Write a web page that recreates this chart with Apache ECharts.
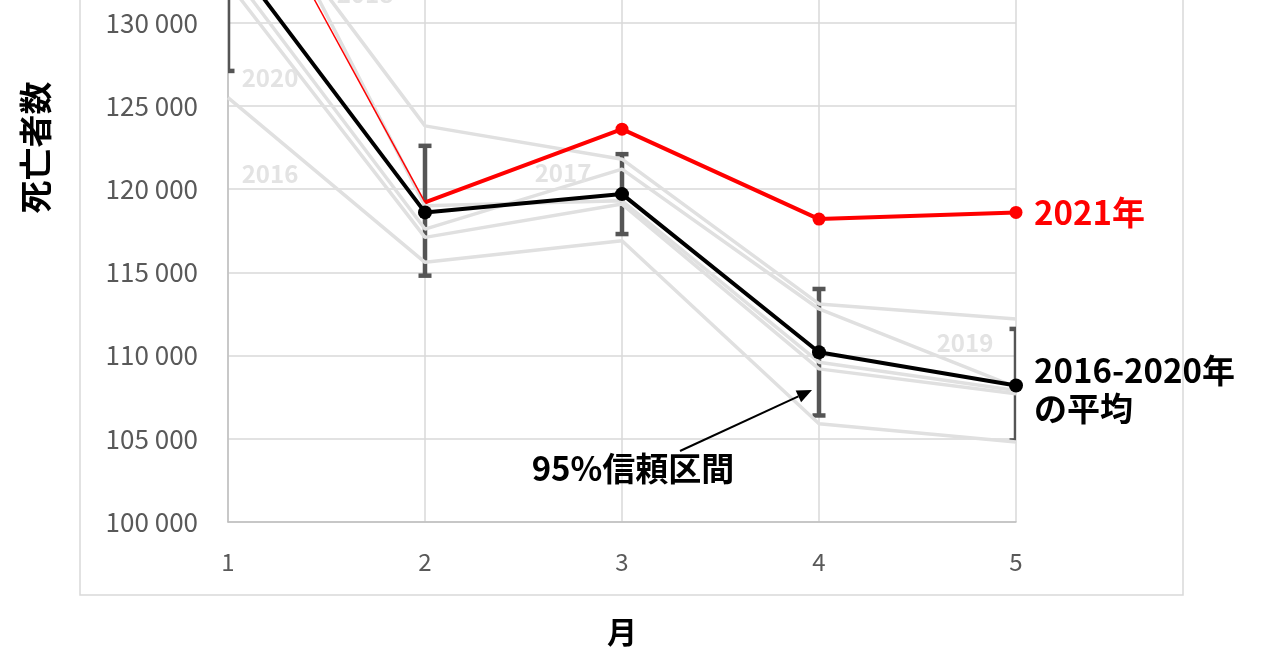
<!DOCTYPE html>
<html>
<head>
<meta charset="utf-8">
<script src="https://cdn.jsdelivr.net/npm/echarts@6/dist/echarts.min.js"></script>
<style>
html,body{margin:0;padding:0;background:#fff;overflow:hidden;width:1280px;height:670px;position:relative;}
#c{position:absolute;left:0;top:-240px;width:1280px;height:910px;}
</style>
</head>
<body>
<div id="c"></div>
<script>
// ---- data ----
const months = [1, 2, 3, 4, 5];
const deaths2016 = [125500, 115600, 116900, 105900, 104800];
const deaths2017 = [133300, 117600, 121200, 112800, 108100];
const deaths2018 = [139600, 123800, 121800, 113100, 112200];
const deaths2019 = [142000, 119000, 119300, 109600, 107900];
const deaths2020 = [132400, 117100, 119100, 109200, 107700];
const mean1620 = [134300, 118600, 119700, 110200, 108200];
const deaths2021 = [140900, 119200, 123600, 118200, 118600];
const ciLow = [127100, 114800, 117300, 106400, 104900];
const ciHigh = [141500, 122600, 122100, 114000, 111600];
const yTicks = { min: 100000, max: 145000, step: 5000 };

const FONT = "'Noto Sans CJK JP', 'Noto Sans', sans-serif";
const GRAY = '#e0e0e0';
const OFF = 240; // the chart canvas starts OFF px above the visible page

function pairs(arr) { return months.map((m, i) => [m, arr[i]]); }

function grayLine(name, arr) {
  return {
    name: name, type: 'line', data: pairs(arr), symbol: 'none', z: 3,
    lineStyle: { color: GRAY, width: 3.5 }, silent: true
  };
}

function errRender(params, api) {
  const x = api.value(0);
  const pLo = api.coord([x, api.value(1)]);
  const pHi = api.coord([x, api.value(2)]);
  const cs = params.coordSys;
  const hw = 6.5;
  const l = Math.max(pLo[0] - hw, cs.x), r = Math.min(pLo[0] + hw, cs.x + cs.width);
  const style = { stroke: '#555555', lineWidth: 4.5, fill: null };
  return {
    type: 'group', children: [
      { type: 'line', shape: { x1: pLo[0], y1: pLo[1], x2: pHi[0], y2: pHi[1] }, style: style },
      { type: 'line', shape: { x1: l, y1: pLo[1], x2: r, y2: pLo[1] }, style: style },
      { type: 'line', shape: { x1: l, y1: pHi[1], x2: r, y2: pHi[1] }, style: style }
    ]
  };
}

const chart = echarts.init(document.getElementById('c'));

const redMain = months.slice(1).map((m, i) => {
  const v = [m, deaths2021[i + 1]];
  return m === 2 ? { value: v, symbol: 'none' } : { value: v };
});

const option = {
  animation: false,
  backgroundColor: '#fff',
  textStyle: { fontFamily: FONT },
  grid: { left: 228, right: 264, top: 12, bottom: 148, containLabel: false },
  xAxis: {
    type: 'value', min: 1, max: 5, interval: 1,
    name: '月', nameLocation: 'middle', nameGap: 95,
    nameTextStyle: { fontSize: 30, fontWeight: 'bold', color: '#000', fontFamily: FONT },
    axisLine: { show: true, lineStyle: { color: '#bfbfbf', width: 1.5 } },
    axisTick: { show: false },
    axisLabel: { color: '#595959', fontSize: 24, margin: 28, fontFamily: FONT },
    splitLine: { show: true, lineStyle: { color: '#d9d9d9', width: 1.5 } }
  },
  yAxis: {
    type: 'value', min: yTicks.min, max: yTicks.max, interval: yTicks.step,
    name: '死亡者数', nameLocation: 'middle', nameRotate: 90, nameGap: 176,
    nameTextStyle: { fontSize: 33, fontWeight: 'bold', color: '#000', fontFamily: FONT },
    axisLine: { show: true, lineStyle: { color: '#bfbfbf', width: 1.5 } },
    axisTick: { show: false },
    axisLabel: {
      color: '#595959', fontSize: 26, margin: 30, fontFamily: FONT,
      formatter: v => String(v).replace(/\B(?=(\d{3})+(?!\d))/g, ' ')
    },
    splitLine: { show: true, lineStyle: { color: '#d9d9d9', width: 1.5 } }
  },
  series: [
    {
      name: '95%信頼区間', type: 'custom', renderItem: errRender, clip: true, z: 2,
      data: months.map((m, i) => [m, ciLow[i], ciHigh[i]]),
      encode: { x: 0, y: [1, 2] }
    },
    grayLine('2016', deaths2016),
    grayLine('2017', deaths2017),
    grayLine('2018', deaths2018),
    grayLine('2019', deaths2019),
    grayLine('2020', deaths2020),
    {
      name: '2016-2020年の平均', type: 'line', data: pairs(mean1620), z: 5,
      symbol: 'circle', symbolSize: 14, showAllSymbol: true,
      itemStyle: { color: '#000' }, lineStyle: { color: '#000', width: 4 }
    },
    {
      name: '2021年 (1-2)', type: 'line', data: pairs(deaths2021).slice(0, 2), z: 6,
      symbol: 'none', lineStyle: { color: '#ff0000', width: 1.5 }
    },
    {
      name: '2021年', type: 'line', data: redMain, z: 6,
      symbol: 'circle', symbolSize: 13, showAllSymbol: true,
      itemStyle: { color: '#ff0000' }, lineStyle: { color: '#ff0000', width: 4 }
    }
  ]
};
chart.setOption(option);

// ---- annotations (page coordinates, shifted by OFF into canvas space) ----
const tip = [812, 390 + OFF], tail = [680, 451 + OFF];
const dx = tip[0] - tail[0], dy = tip[1] - tail[1];
const len = Math.hypot(dx, dy), ux = dx / len, uy = dy / len;
const hl = 15, hw = 6.5;
const bx = tip[0] - hl * ux, by = tip[1] - hl * uy;
const head = [tip, [bx - hw * uy, by + hw * ux], [bx + hw * uy, by - hw * ux]];

function yearText(t, cx, cy) {
  return {
    type: 'text', x: cx, y: cy + OFF, z: 10,
    style: { text: t, fill: '#e3e3e3', font: 'bold 24px ' + FONT, textAlign: 'center', textVerticalAlign: 'middle' }
  };
}
function bigText(t, x, y, color, align) {
  return {
    type: 'text', x: x, y: y + OFF, z: 20,
    style: { text: t, fill: color, font: 'bold 33px ' + FONT, textAlign: align, textVerticalAlign: 'middle' }
  };
}

chart.setOption({
  graphic: [
    { type: 'rect', shape: { x: 80, y: OFF - 20, width: 1103, height: 615 }, style: { fill: null, stroke: '#d9d9d9', lineWidth: 1.5 }, z: -1 },
    yearText('2018', 365, -6),
    yearText('2020', 270, 78),
    yearText('2016', 270, 174),
    yearText('2017', 563, 173),
    yearText('2019', 965, 343),
    bigText('2021年', 1034, 212, '#ff0000', 'left'),
    bigText('2016-2020年', 1034, 370, '#000', 'left'),
    bigText('の平均', 1034, 408, '#000', 'left'),
    bigText('95%信頼区間', 633, 468, '#000', 'center'),
    { type: 'line', z: 20, shape: { x1: tail[0], y1: tail[1], x2: bx, y2: by }, style: { stroke: '#000', lineWidth: 2 } },
    { type: 'polygon', z: 20, shape: { points: head }, style: { fill: '#000' } }
  ]
});
</script>
</body>
</html>
